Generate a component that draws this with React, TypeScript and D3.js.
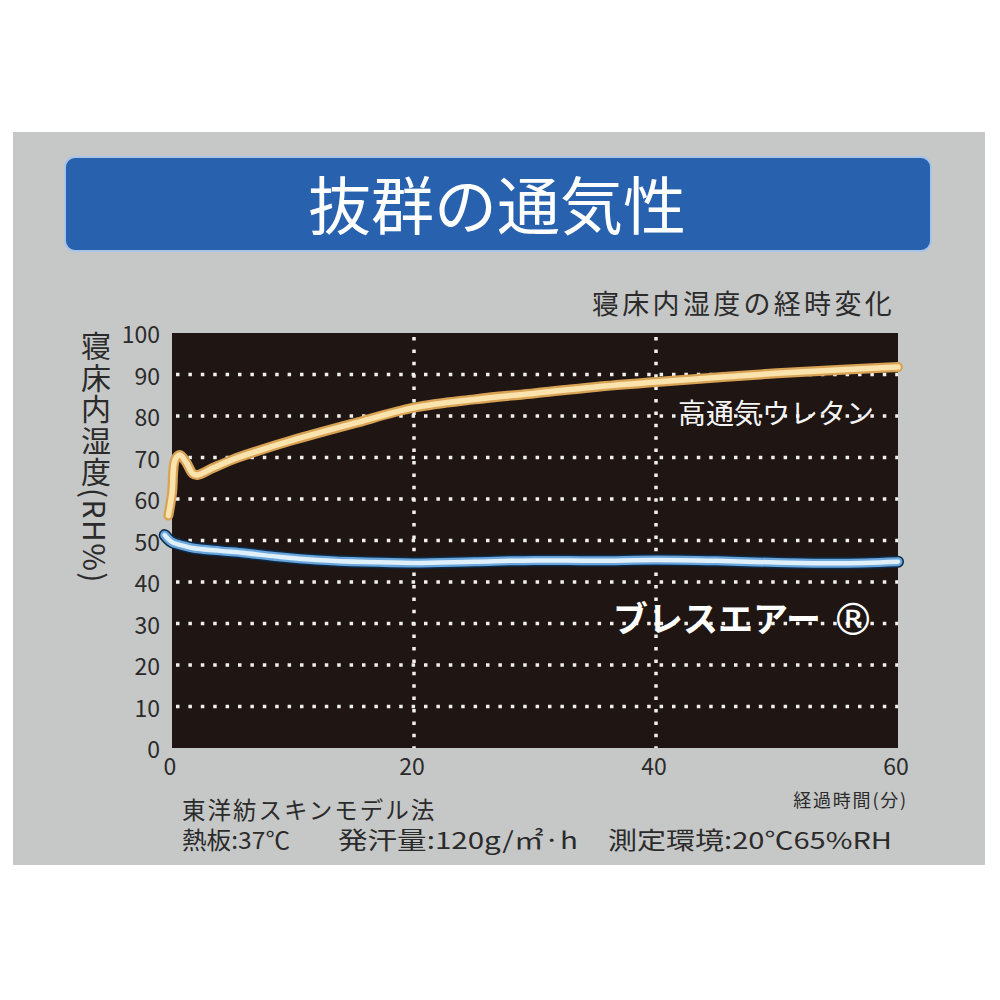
import * as d3 from 'd3';

// time axis (minutes) and relative humidity in the bed (RH%)
const urethaneTime = [-0.3, 0, 0.25, 0.65, 1.2, 1.7, 2.1, 3.4, 5, 7, 10, 15, 20, 25, 30, 35, 40, 45, 50, 55, 60];
const urethaneRH = [56, 61.4, 69.4, 70.6, 68.7, 66.2, 65.8, 67.5, 69.5, 71.5, 74.2, 78.2, 82, 84, 85.5, 87, 88.2, 89.3, 90.3, 91.1, 91.8];

const breathTime = [-0.6, 0, 1, 1.7, 4, 6, 9, 12, 16, 20, 25, 30, 35, 40, 45, 50, 55, 60];
const breathRH = [51.3, 49.6, 48.7, 48.2, 47.5, 47, 46, 45.3, 44.8, 44.6, 44.9, 45.2, 45.1, 45.3, 45.1, 44.7, 44.5, 44.9];

const yTicks = [0, 10, 20, 30, 40, 50, 60, 70, 80, 90, 100];
const xTicks = [0, 20, 40, 60];
const hGrid = [10, 20, 30, 40, 50, 60, 70, 80, 90];
const vGrid = [20, 40];

const title = '抜群の通気性';
const subtitle = '寝床内湿度の経時変化';
const yLabel = '寝床内湿度(RH%)';
const xLabel = '経過時間(分)';
const urethaneLabel = '高通気ウレタン';
const breathLabel = 'ブレスエアー';
const note1 = '東洋紡スキンモデル法';
const note2 = ['熱板:37℃', '発汗量:120g/㎡·h', '測定環境:20℃65%RH'];

const FONT = '"Noto Sans CJK JP", "Noto Sans", sans-serif';

export default function App() {
  const plot = { left: 172, right: 898, top: 333, bottom: 748 };
  const x = d3.scaleLinear().domain([0, 60]).range([plot.left, plot.right]);
  const y = d3.scaleLinear().domain([0, 100]).range([plot.bottom, plot.top]);

  const line = d3
    .line<[number, number]>()
    .x((d) => x(d[0]))
    .y((d) => y(d[1]))
    .curve(d3.curveCatmullRom.alpha(0.5));

  const urethane = line(urethaneTime.map((t, i) => [t, urethaneRH[i]])) || '';
  const breath = line(breathTime.map((t, i) => [t, breathRH[i]])) || '';

  return (
    <svg
      width={1000}
      height={1000}
      style={{ position: 'absolute', left: 0, top: 0, background: '#fff' }}
      fontFamily={FONT}
    >
      {/* gray panel */}
      <rect x={13} y={132} width={972} height={733} fill="#c6c7c7" />

      {/* title banner */}
      <rect x={65} y={157} width={866} height={94} rx={10} fill="#2862ae" stroke="#a9c4e6" strokeWidth={2} />
      <text x={497} y={229} textAnchor="middle" fontSize={63} fill="#fff">
        {title}
      </text>

      <text x={895} y={314} textAnchor="end" fontSize={27} letterSpacing={3.3} fill="#2b2b2b">
        {subtitle}
      </text>

      {/* plot background */}
      <rect
        x={plot.left}
        y={plot.top}
        width={plot.right - plot.left}
        height={plot.bottom - plot.top}
        fill="#1f1614"
      />

      {/* dotted grid */}
      {hGrid.map((v) => (
        <line
          key={'h' + v}
          x1={plot.left + 4}
          x2={plot.right}
          y1={y(v)}
          y2={y(v)}
          stroke="#f2f0ea"
          strokeWidth={3.5}
          strokeDasharray="3.5 8.9"
        />
      ))}
      {vGrid.map((t) => (
        <line
          key={'v' + t}
          x1={x(t)}
          x2={x(t)}
          y1={plot.top + 4}
          y2={plot.bottom}
          stroke="#f2f0ea"
          strokeWidth={3.5}
          strokeDasharray="3.5 8.9"
        />
      ))}

      {/* y ticks */}
      {yTicks.map((v) => (
        <text
          key={'yt' + v}
          x={160}
          y={y(v)}
          textAnchor="end"
          dominantBaseline="central"
          fontSize={23}
          fill="#2b2b2b"
        >
          {v}
        </text>
      ))}

      {/* x ticks */}
      {xTicks.map((t) => (
        <text key={'xt' + t} x={x(t) - 2} y={775} textAnchor="middle" fontSize={23} fill="#2b2b2b">
          {t}
        </text>
      ))}
      <text x={908} y={807} textAnchor="end" fontSize={18} letterSpacing={1.8} fill="#2b2b2b">
        {xLabel}
      </text>

      {/* y axis label, vertical */}
      <text
        x={96}
        y={331}
        fontSize={30}
        letterSpacing={1.4}
        fill="#2b2b2b"
        style={{ writingMode: 'vertical-rl', textOrientation: 'mixed' } as any}
      >
        {yLabel}
      </text>

      {/* lines */}
      <path d={urethane} fill="none" stroke="#d9a355" strokeWidth={10} strokeLinecap="round" strokeLinejoin="round" />
      <path d={urethane} fill="none" stroke="#fbe3ad" strokeWidth={5.5} strokeLinecap="round" strokeLinejoin="round" />
      <path d={breath} fill="none" stroke="#0c2a48" strokeWidth={12} strokeLinecap="round" strokeLinejoin="round" />
      <path d={breath} fill="none" stroke="#6aa6dc" strokeWidth={9} strokeLinecap="round" strokeLinejoin="round" />
      <path d={breath} fill="none" stroke="#dff0fb" strokeWidth={4.5} strokeLinecap="round" strokeLinejoin="round" />

      {/* series labels */}
      <text x={678} y={424} fontSize={28} fill="#f4f4f4">
        {urethaneLabel}
      </text>
      <text x={613} y={632} fontSize={35} fontWeight="bold" fill="#fff">
        {breathLabel}
      </text>
      <text x={831} y={635} fontSize={44} fontFamily='"DejaVu Sans", sans-serif' fill="#fff">
        ®
      </text>

      {/* notes: two lines in one block */}
      <text fontSize={23.5} fill="#2b2b2b">
        <tspan x={182} y={819} letterSpacing={2}>
          {note1}
        </tspan>
        <tspan x={182} y={849} textLength={108} lengthAdjust="spacingAndGlyphs">
          {note2[0]}
        </tspan>
        <tspan x={338} y={849} textLength={240} lengthAdjust="spacingAndGlyphs">
          {note2[1]}
        </tspan>
        <tspan x={608} y={849} textLength={284} lengthAdjust="spacingAndGlyphs">
          {note2[2]}
        </tspan>
      </text>
    </svg>
  );
}
